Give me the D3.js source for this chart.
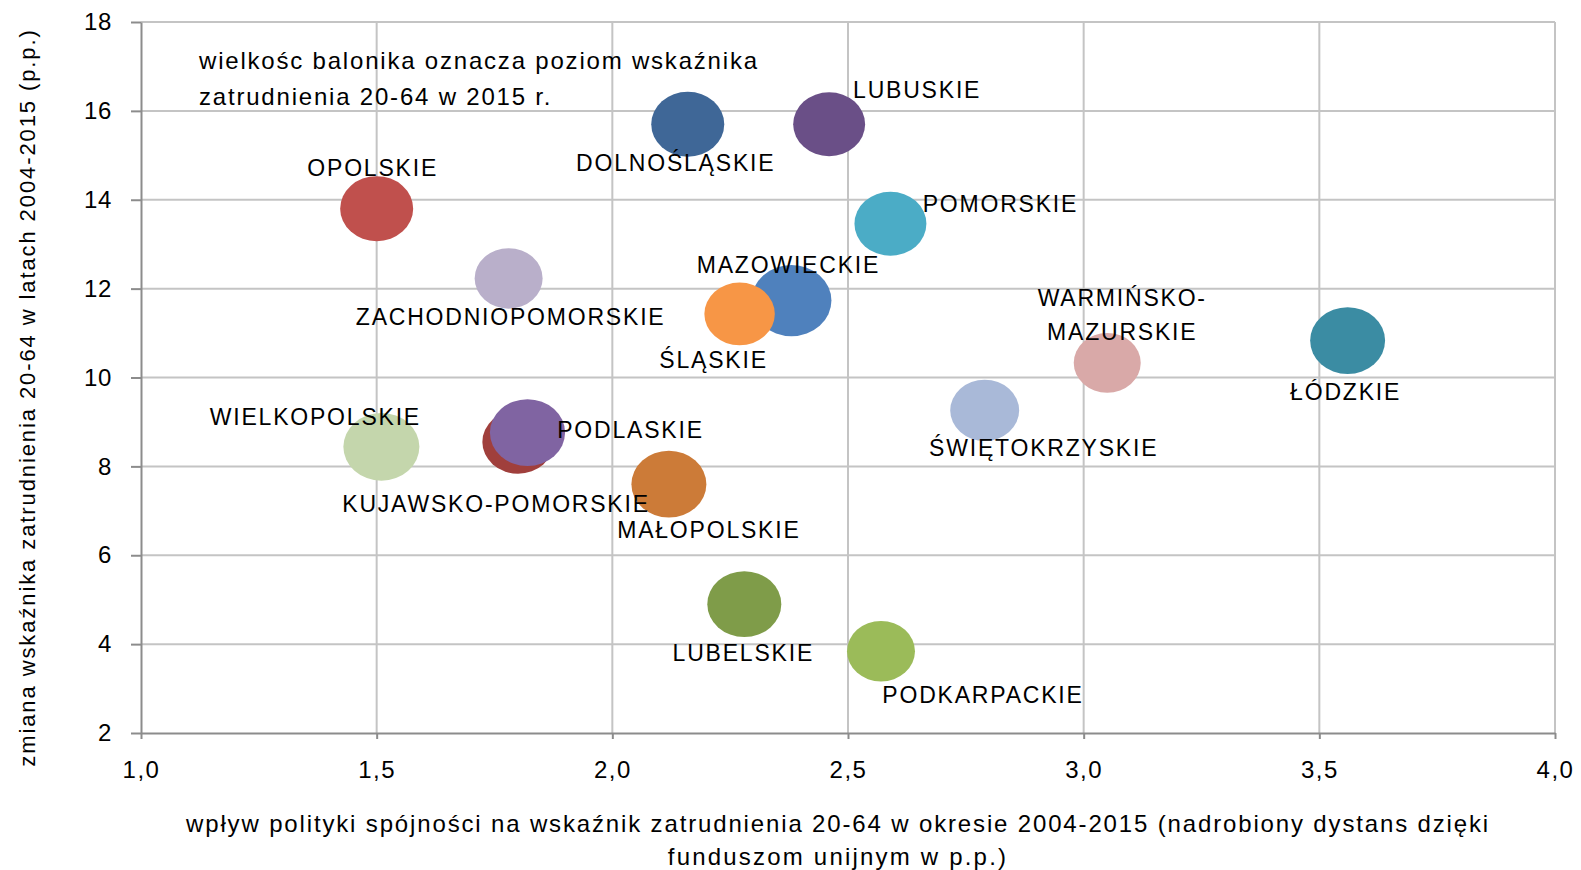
<!DOCTYPE html>
<html>
<head>
<meta charset="utf-8">
<script src="https://cdn.jsdelivr.net/npm/d3@7"></script>
<style>
  body { margin: 0; background: #fff; }
  svg { display: block; font-family: "Liberation Sans", Arial, sans-serif; }
</style>
</head>
<body>
<svg id="chart"></svg>
<script>
const width = 1581;
const height = 870;
const margin = {top: 22, right: 26, bottom: 137, left: 141};

// regions, in series order (later ones are drawn on top)
const regions = ["DOLNOŚLĄSKIE", "KUJAWSKO-POMORSKIE", "LUBELSKIE", "LUBUSKIE", "ŁÓDZKIE",
  "MAŁOPOLSKIE", "MAZOWIECKIE", "OPOLSKIE", "PODKARPACKIE", "PODLASKIE", "POMORSKIE",
  "ŚLĄSKIE", "ŚWIĘTOKRZYSKIE", "WARMIŃSKO-MAZURSKIE", "WIELKOPOLSKIE", "ZACHODNIOPOMORSKIE"];
// x: wpływ polityki spójności (p.p.)
const cohesionImpact = [2.16, 1.80, 2.28, 2.46, 3.56, 2.12, 2.38, 1.50, 2.57, 1.82, 2.59,
  2.27, 2.79, 3.05, 1.51, 1.78];
// y: zmiana wskaźnika zatrudnienia 2004-2015 (p.p.)
const employmentChange = [15.7, 8.55, 4.9, 15.7, 10.83, 7.6, 11.73, 13.8, 3.84, 8.76, 13.46,
  11.43, 9.26, 10.33, 8.44, 12.23];
// bubble size: wskaźnik zatrudnienia 20-64 w 2015 r. (%)
const employmentRate = [68.0, 66.5, 68.9, 67.0, 69.8, 69.8, 74.5, 68.0, 63.3, 70.0, 67.0,
  65.6, 64.2, 62.4, 70.8, 63.3];
const xTicks = [1.0, 1.5, 2.0, 2.5, 3.0, 3.5, 4.0];
const yTicks = [2, 4, 6, 8, 10, 12, 14, 16, 18];

const bubbleColors = ["#3f6797", "#a03f3c", "#7f9c49", "#6a4f87", "#3b8ca3", "#cc7b38",
  "#4f81bd", "#c0504d", "#9bbb59", "#8064a2", "#4bacc6", "#f79646", "#a9b9d8", "#d9a9a8",
  "#c4d6ac", "#b9afca"];

// label placement relative to bubble centre, px
const labelOffset = {
  "DOLNOŚLĄSKIE": [-12, 39], "KUJAWSKO-POMORSKIE": [-22, 62], "LUBELSKIE": [-1, 49],
  "LUBUSKIE": [88, -34], "ŁÓDZKIE": [-2, 51], "MAŁOPOLSKIE": [40, 46],
  "MAZOWIECKIE": [-3, -36], "OPOLSKIE": [-4, -41], "PODKARPACKIE": [102, 44],
  "PODLASKIE": [103, -3], "POMORSKIE": [110, -20], "ŚLĄSKIE": [-26, 46],
  "ŚWIĘTOKRZYSKIE": [59, 38], "WARMIŃSKO-MAZURSKIE": [15, -65], "WIELKOPOLSKIE": [-66, -30],
  "ZACHODNIOPOMORSKIE": [2, 39]
};

const points = regions.map((name, i) => ({
  name: name,
  x: cohesionImpact[i],
  y: employmentChange[i],
  size: employmentRate[i],
  color: bubbleColors[i]
}));

const svg = d3.select('#chart')
  .attr('width', width)
  .attr('height', height);

svg.append('rect').attr('width', width).attr('height', height).attr('fill', '#fff');

const x = d3.scaleLinear().domain([1, 4]).range([margin.left, width - margin.right]);
const y = d3.scaleLinear().domain([2, 18]).range([height - margin.bottom, margin.top]);
const r = d3.scaleLinear().domain([0, 74.5]).range([0, 40]);

// gridlines
const grid = svg.append('g').attr('stroke', '#c4c4c4').attr('stroke-width', 2);
grid.selectAll('.vg').data(xTicks.slice(1)).enter().append('line')
  .attr('x1', d => x(d)).attr('x2', d => x(d))
  .attr('y1', y(18)).attr('y2', y(2));
grid.selectAll('.hg').data(yTicks.slice(1)).enter().append('line')
  .attr('x1', x(1)).attr('x2', x(4))
  .attr('y1', d => y(d)).attr('y2', d => y(d));

function xAxis(g) {
  g.attr('transform', `translate(0, ${y(2)})`)
    .call(d3.axisBottom(x).tickValues(xTicks).tickSize(6).tickSizeOuter(0).tickPadding(22)
      .tickFormat(d => d3.format('.1f')(d).replace('.', ',')));
  g.select('.domain').attr('stroke', '#8c8c8c').attr('stroke-width', 2);
  g.selectAll('.tick line').attr('stroke', '#8c8c8c').attr('stroke-width', 2);
  g.selectAll('text').attr('font-size', 24).attr('fill', '#000')
    .attr('font-family', '"Liberation Sans", Arial, sans-serif')
    .style('letter-spacing', '1.5px');
}

function yAxis(g) {
  g.attr('transform', `translate(${x(1)}, 0)`)
    .call(d3.axisLeft(y).tickValues(yTicks).tickSize(10).tickSizeOuter(0).tickPadding(19));
  g.select('.domain').attr('stroke', '#8c8c8c').attr('stroke-width', 2);
  g.selectAll('.tick line').attr('stroke', '#8c8c8c').attr('stroke-width', 2);
  g.selectAll('text').attr('font-size', 24).attr('fill', '#000')
    .attr('font-family', '"Liberation Sans", Arial, sans-serif')
    .style('letter-spacing', '0.6px');
}

svg.append('g').call(xAxis);
svg.append('g').call(yAxis);

// bubbles
svg.append('g')
  .selectAll('ellipse')
  .data(points)
  .enter()
  .append('ellipse')
    .attr('cx', d => x(d.x))
    .attr('cy', d => y(d.y))
    .attr('rx', d => r(d.size))
    .attr('ry', d => r(d.size) * 0.89)
    .attr('fill', d => d.color);

// bubble labels
const labels = svg.append('g').attr('font-size', 23).attr('fill', '#000')
  .attr('text-anchor', 'middle').style('letter-spacing', '1.8px');
points.forEach(d => {
  const off = labelOffset[d.name];
  const lines = d.name === 'WARMIŃSKO-MAZURSKIE' ? ['WARMIŃSKO-', 'MAZURSKIE'] : [d.name];
  const t = labels.append('text')
    .attr('x', x(d.x) + off[0])
    .attr('y', y(d.y) + off[1]);
  lines.forEach((ln, i) => {
    t.append('tspan').attr('x', x(d.x) + off[0]).attr('dy', i === 0 ? '0.35em' : 34).text(ln);
  });
});

// note in the plot
const note = svg.append('text').attr('font-size', 24).attr('fill', '#000')
  .style('letter-spacing', '1.8px');
note.append('tspan').attr('x', 199).attr('y', 69).text('wielkośc balonika oznacza poziom wskaźnika');
note.append('tspan').attr('x', 199).attr('y', 105).text('zatrudnienia 20-64 w 2015 r.');

// axis titles
svg.append('text')
  .attr('transform', `translate(27, ${(y(2) + y(18)) / 2 + 20}) rotate(-90)`)
  .attr('text-anchor', 'middle').attr('dy', '0.35em')
  .attr('font-size', 22).attr('fill', '#000').style('letter-spacing', '1.9px')
  .text('zmiana wskaźnika zatrudnienia 20-64 w latach 2004-2015 (p.p.)');

const xt = svg.append('text').attr('text-anchor', 'middle')
  .attr('font-size', 24).attr('fill', '#000');
xt.append('tspan').attr('x', 838).attr('y', 832).style('letter-spacing', '1.85px')
  .text('wpływ polityki spójności na wskaźnik zatrudnienia 20-64 w okresie 2004-2015 (nadrobiony dystans dzięki');
xt.append('tspan').attr('x', 838).attr('y', 865).style('letter-spacing', '2.2px')
  .text('funduszom unijnym w p.p.)');
</script>
</body>
</html>
